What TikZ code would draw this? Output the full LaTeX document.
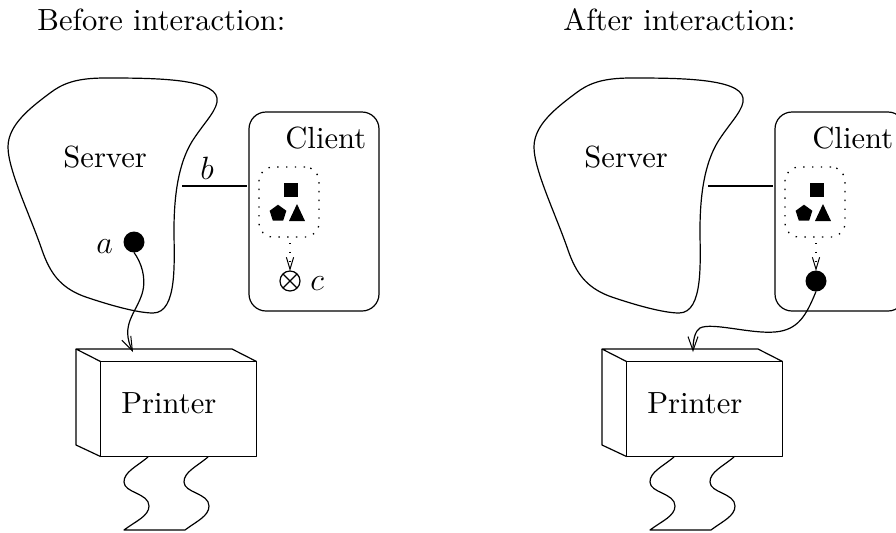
\documentclass[tikz,border=0pt]{standalone}
\usepackage{graphicx}
\usetikzlibrary{arrows.meta,shapes.geometric}
\DeclareFontFamily{TU}{lmten}{}
\DeclareFontShape{TU}{lmten}{m}{n}{<->"[lmroman10-regular]:mapping=tex-text"}{}
\newcommand{\mathlabel}[1]{\scalebox{1.12}{$#1$}}
\tikzset{
  x=0.5pt,y=-0.5pt,
  every node/.style={font=\usefont{TU}{lmten}{m}{n}\fontsize{15.3}{18}\selectfont},
  line/.style={line width=0.6pt,line join=round},
  lbl/.style={anchor=base west,inner sep=0pt},
  solidshape/.style={fill=black,draw=none,inner sep=0pt,outer sep=0pt},
  tipv/.style={-{Straight Barb[length=7pt,width=5pt,line width=0.5pt]}},
  tipd/.style={-{Straight Barb[length=6pt,width=3.6pt,line width=0.5pt]}},
  dotline/.style={line width=0.65pt,dash pattern=on 0.7pt off 3.7pt},
  ball/.style={circle,fill=black,draw=none,minimum size=10.5pt,inner sep=0pt,outer sep=0pt},
}
\newcommand{\drawpanel}[2]{%
  \begin{scope}[xshift=#2*0.5pt]
  % server
  \draw[line] (8,147) .. controls (8,125) and (30,108) .. (50,93)
    .. controls (62,84) and (75,78) .. (105,78)
    .. controls (150,78) and (214,78) .. (217,98)
    .. controls (219,108) and (205,122) .. (195,137)
    .. controls (180,158) and (174,190) .. (174,230)
    .. controls (174,260) and (178,313) .. (153,313)
    .. controls (135,313) and (100,302) .. (83,296)
    .. controls (60,287) and (50,273) .. (42,250)
    .. controls (30,215) and (8,170) .. (8,147) -- cycle;
  \coordinate (#1srvE) at (182,186);
  % client
  \node[line,draw,rounded corners=8.5pt,minimum width=65pt,minimum height=99.5pt,inner sep=0pt,outer sep=0pt] (#1cl) at (314,211.5) {};
  \node[draw,dotline,rounded corners=7pt,minimum width=30pt,minimum height=35pt,inner sep=0pt,outer sep=0pt] (#1db) at (289,202) {};
  \node[solidshape,minimum width=7pt,minimum height=7pt] (#1sq) at (291,190) {};
  \node[solidshape,regular polygon,regular polygon sides=5,minimum size=8.8pt] (#1pe) at (278,213.5) {};
  \fill (289,221) -- (297,204) -- (305,221) -- cycle;
  \draw[line width=1.25pt,shorten >=1pt] (#1srvE) -- (#1cl.west |- #1srvE);
  \coordinate (#1dotS) at (290,243);
  \coordinate (#1dotE) at (290,271);
  \draw[dotline,tipd] (#1dotS) -- (#1dotE);
  % printer
  \node[line,draw,minimum width=78pt,minimum height=47.5pt,inner sep=0pt,outer sep=0pt] (#1pr) at (178.5,409) {};
  \coordinate (#1tl) at (76,349);
  \coordinate (#1tr) at (232,349);
  \coordinate (#1bl) at (76,445);
  \draw[line] (#1pr.north west) -- (#1tl) -- (#1tr) -- (#1pr.north east);
  \draw[line] (#1tl) -- (#1bl) -- (#1pr.south west);
  \draw[line] (148,457) .. controls (136,467) and (124,472) .. (124,482) .. controls (124,493) and (149,493) .. (149,506) .. controls (149,516) and (136,521) .. (124,530) -- (185,530) .. controls (197,521) and (209,516) .. (209,506) .. controls (209,493) and (184,493) .. (184,482) .. controls (184,472) and (196,467) .. (208,457);
  \end{scope}
}
\begin{document}
\begin{tikzpicture}
\clip (0,0) rectangle (896,532);
\useasboundingbox (0,0) rectangle (896,532);
\drawpanel{L}{0}
\drawpanel{R}{526}
% texts
\node[lbl] (t1) at (37,30) {Before interaction:};
\node[lbl] (t2) at (563,30) {After interaction:};
\node[lbl] (s1) at (63,167) {Server};
\node[lbl] (s2) at (584,167) {Server};
\node[lbl] (c1) at (285,148) {Client};
\node[lbl] (c2) at (812,148) {Client};
\node[lbl] (p1) at (121,413) {Printer};
\node[lbl] (p2) at (647,413) {Printer};
\node[lbl] (lb) at (200,179) {\mathlabel{b}};
\node[lbl] (la) at (96,253) {\mathlabel{a}};
\node[lbl] (lc) at (310,290) {\mathlabel{c}};
% left panel
\node[ball] (a) at (134,242) {};
\node[line,draw,circle,minimum size=10pt,inner sep=0pt,outer sep=0pt] (cc) at (290,281) {};
\draw[line width=0.55pt] (cc.45) -- (cc.225) (cc.135) -- (cc.315);
\coordinate (ptrL) at (133,352);
\draw[line,tipv] (a.south) .. controls (141,262) and (147,278) .. (142,294) .. controls (136,313) and (120,325) .. (ptrL);
% right panel
\node[ball] (d) at (816,281) {};
\coordinate (ptrR) at (693,352);
\draw[line,tipv] (d.south) .. controls (806,316) and (798,330) .. (775,332) .. controls (750,334) and (712,322) .. (700,328) .. controls (695,331) and (693,340) .. (ptrR);
\end{tikzpicture}
\end{document}
